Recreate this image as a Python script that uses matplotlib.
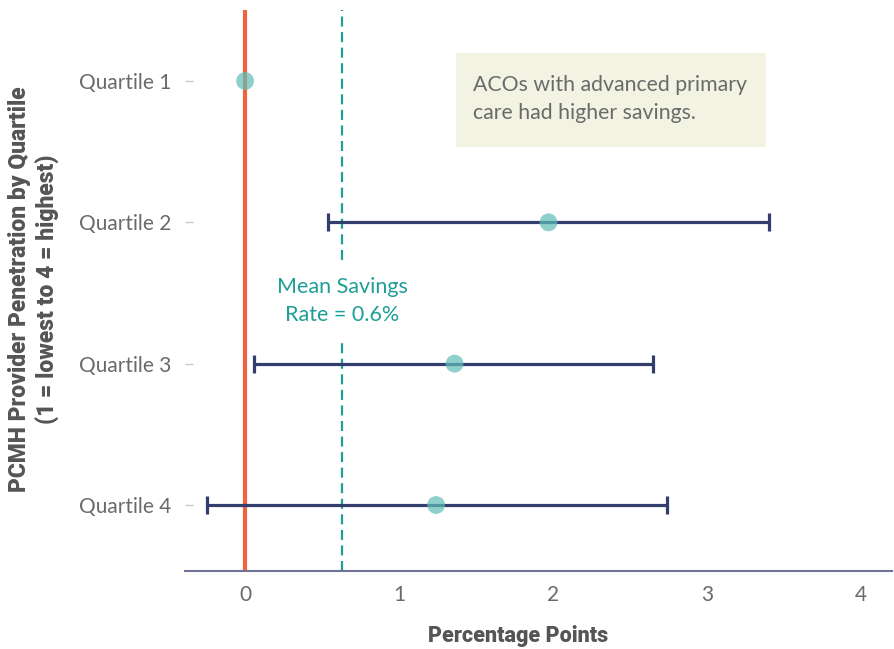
import matplotlib.pyplot as plt
from matplotlib.patches import Rectangle

# data
quartiles = ['Quartile 1', 'Quartile 2', 'Quartile 3', 'Quartile 4']
estimate = [0.0, 1.97, 1.36, 1.24]
ci_low = [0.0, 0.54, 0.06, -0.25]
ci_high = [0.0, 3.40, 2.65, 2.74]
mean_rate = 0.63
xticks = [0, 1, 2, 3, 4]

navy = '#323e6e'
orange = '#ee6441'
teal = '#1f9e96'
dot = '#5fbdb7'
grey = '#6a6a6a'

fig = plt.figure(figsize=(8.95, 6.49), dpi=100)
ax = fig.add_axes([185 / 895, 1 - 571 / 649, 707 / 895, 561 / 649])

ypos = list(range(1, len(quartiles) + 1))

# reference line at zero and the mean
ax.axvline(0, color=orange, lw=3, zorder=2, solid_capstyle='round')
ax.axvline(mean_rate, color=teal, lw=1.6, ls=(0, (4.5, 2.5)), zorder=1)

# confidence intervals (Quartile 1 is the reference, no interval)
for y, est, lo, hi in zip(ypos, estimate, ci_low, ci_high):
    if hi - lo > 0:
        ax.errorbar(est, y, xerr=[[est - lo], [hi - est]], fmt='none',
                    ecolor=navy, elinewidth=2.3, capsize=6.5, capthick=2.3,
                    zorder=3)

ax.scatter(estimate, ypos, s=165, color=dot, alpha=0.7, edgecolor='none',
           zorder=4)

ax.text(mean_rate, 2.56, 'Mean Savings\nRate = 0.6%', color=teal,
        fontsize=15.5, family='Lato', ha='center', va='center',
        linespacing=1.5, zorder=2,
        bbox=dict(facecolor='white', edgecolor='none', pad=10))

# note box
ax.add_patch(Rectangle((271 / 707, 1 - 137 / 561), 310 / 707, 94 / 561,
                       transform=ax.transAxes, facecolor='#f2f3e2',
                       edgecolor='none', zorder=0))
ax.text(288 / 707, 1 - 89 / 561, 'ACOs with advanced primary\ncare had higher savings.',
        transform=ax.transAxes, color=grey, fontsize=15.3, family='Lato',
        ha='left', va='center', linespacing=1.45)

ax.set_xlim(-0.39, 4.20)
ax.set_ylim(4.467, 0.498)
ax.set_xticks(xticks)
ax.set_xticklabels([str(t) for t in xticks])
ax.set_yticks(ypos)
ax.set_yticklabels(quartiles)

for s in ['top', 'right', 'left']:
    ax.spines[s].set_visible(False)
ax.spines['bottom'].set_color('#6e7397')
ax.spines['bottom'].set_linewidth(1.5)

ax.tick_params(axis='x', length=0, pad=10, labelsize=15, labelcolor=grey)
ax.tick_params(axis='y', direction='in', length=6, width=1, color='#c9cad9',
               pad=10, labelsize=15, labelcolor=grey)
for lab in ax.get_xticklabels() + ax.get_yticklabels():
    lab.set_family('Lato')

fig.text(518 / 895, 1 - 636 / 649, 'Percentage Points', ha='center', va='center',
         fontsize=15.5, fontweight='black', color='#555555', family='Roboto')
fig.text(34 / 895, 1 - 289 / 649,
         'PCMH Provider Penetration by Quartile\n(1 = lowest to 4 = highest)',
         rotation=90, ha='center', va='center', fontsize=16.5, fontweight='black',
         color='#555555', family='Roboto', linespacing=1.3)

plt.savefig('out.png', dpi=100)
